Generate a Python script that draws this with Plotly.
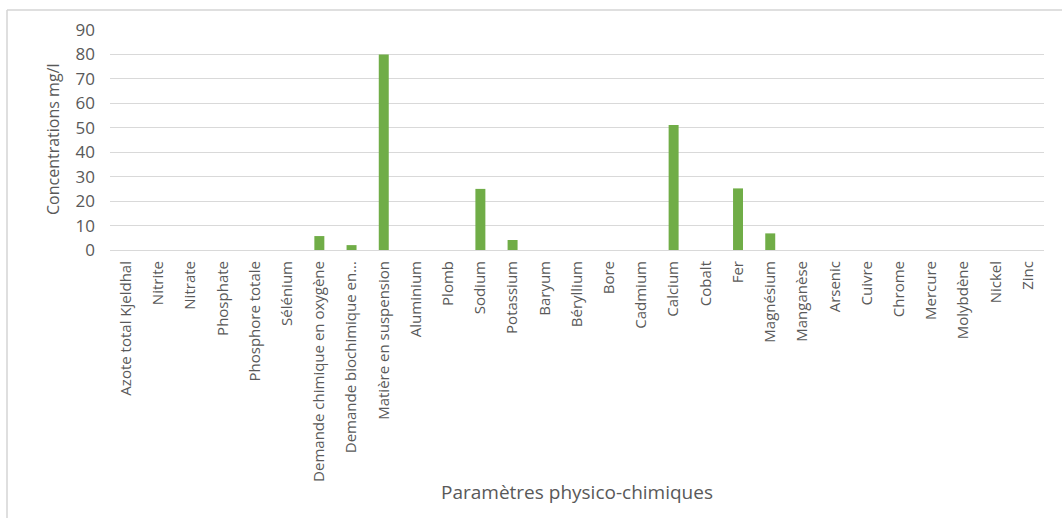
import plotly.graph_objects as go

# Physico-chemical parameters and measured concentrations (mg/l)
parametres = [
    "Azote total Kjeldhal", "Nitrite", "Nitrate", "Phosphate", "Phosphore totale",
    "Sélénium", "Demande chimique en oxygène", "Demande biochimique en...",
    "Matière en suspension", "Aluminium", "Plomb", "Sodium", "Potassium", "Baryum",
    "Béryllium", "Bore", "Cadmium", "Calcium", "Cobalt", "Fer", "Magnésium",
    "Manganèse", "Arsenic", "Cuivre", "Chrome", "Mercure", "Molybdène", "Nickel", "Zinc",
]
concentrations = [
    0, 0, 0, 0, 0,
    0, 5.7, 2.0,
    80, 0, 0, 25, 4.1, 0,
    0, 0, 0, 51.1, 0, 25.2, 6.8,
    0, 0, 0, 0, 0, 0, 0, 0,
]
y_ticks = [0, 10, 20, 30, 40, 50, 60, 70, 80, 90]

W, H = 1062, 518
L, R, T, B = 110, 18, 30, 268
pw, ph = W - L - R, H - T - B

font_family = "'Open Sans', 'Noto Sans', sans-serif"
grey_text = "#595959"
grid = "#d9d9d9"

fig = go.Figure(
    go.Bar(
        x=parametres,
        y=concentrations,
        marker=dict(color="#70AD47", line=dict(width=0)),
        hoverinfo="x+y",
    )
)


def px_x(x):
    return (x - L) / pw


def px_y(y):
    return (H - B - y) / ph


# Outer chart frame (top and left edges)
frame = dict(color="#d4d4d4", width=1.5)
fig.add_shape(type="line", xref="paper", yref="paper",
              x0=px_x(7), x1=px_x(1062), y0=px_y(10), y1=px_y(10), line=frame)
fig.add_shape(type="line", xref="paper", yref="paper",
              x0=px_x(7), x1=px_x(7), y0=px_y(10), y1=px_y(518), line=frame)

# Axis titles
fig.add_annotation(text="Paramètres physico-chimiques", xref="paper", yref="paper",
                   x=0.5, y=px_y(492), xanchor="center", yanchor="middle",
                   showarrow=False, font=dict(size=19, color=grey_text))
fig.add_annotation(text="Concentrations mg/l", xref="paper", yref="paper",
                   x=px_x(53), y=0.5, xanchor="center", yanchor="middle",
                   textangle=-90, showarrow=False, font=dict(size=16, color=grey_text))

fig.update_layout(
    width=W,
    height=H,
    margin=dict(l=L, r=R, t=T, b=B, autoexpand=False),
    paper_bgcolor="white",
    plot_bgcolor="white",
    bargap=0.69,
    showlegend=False,
    font=dict(family=font_family, color=grey_text),
    xaxis=dict(
        type="category",
        tickangle=-90,
        tickfont=dict(size=15, color=grey_text),
        showgrid=False,
        showline=True,
        linecolor=grid,
        linewidth=1,
        ticks="",
        ticklabelstandoff=4,
        automargin=False,
    ),
    yaxis=dict(
        range=[0, 90],
        tickvals=y_ticks,
        tickfont=dict(size=17, color=grey_text),
        showgrid=True,
        gridcolor=grid,
        gridwidth=1,
        zeroline=False,
        showline=False,
        ticks="",
        ticklabelstandoff=14,
        automargin=False,
    ),
)

fig.write_html("out.html")
